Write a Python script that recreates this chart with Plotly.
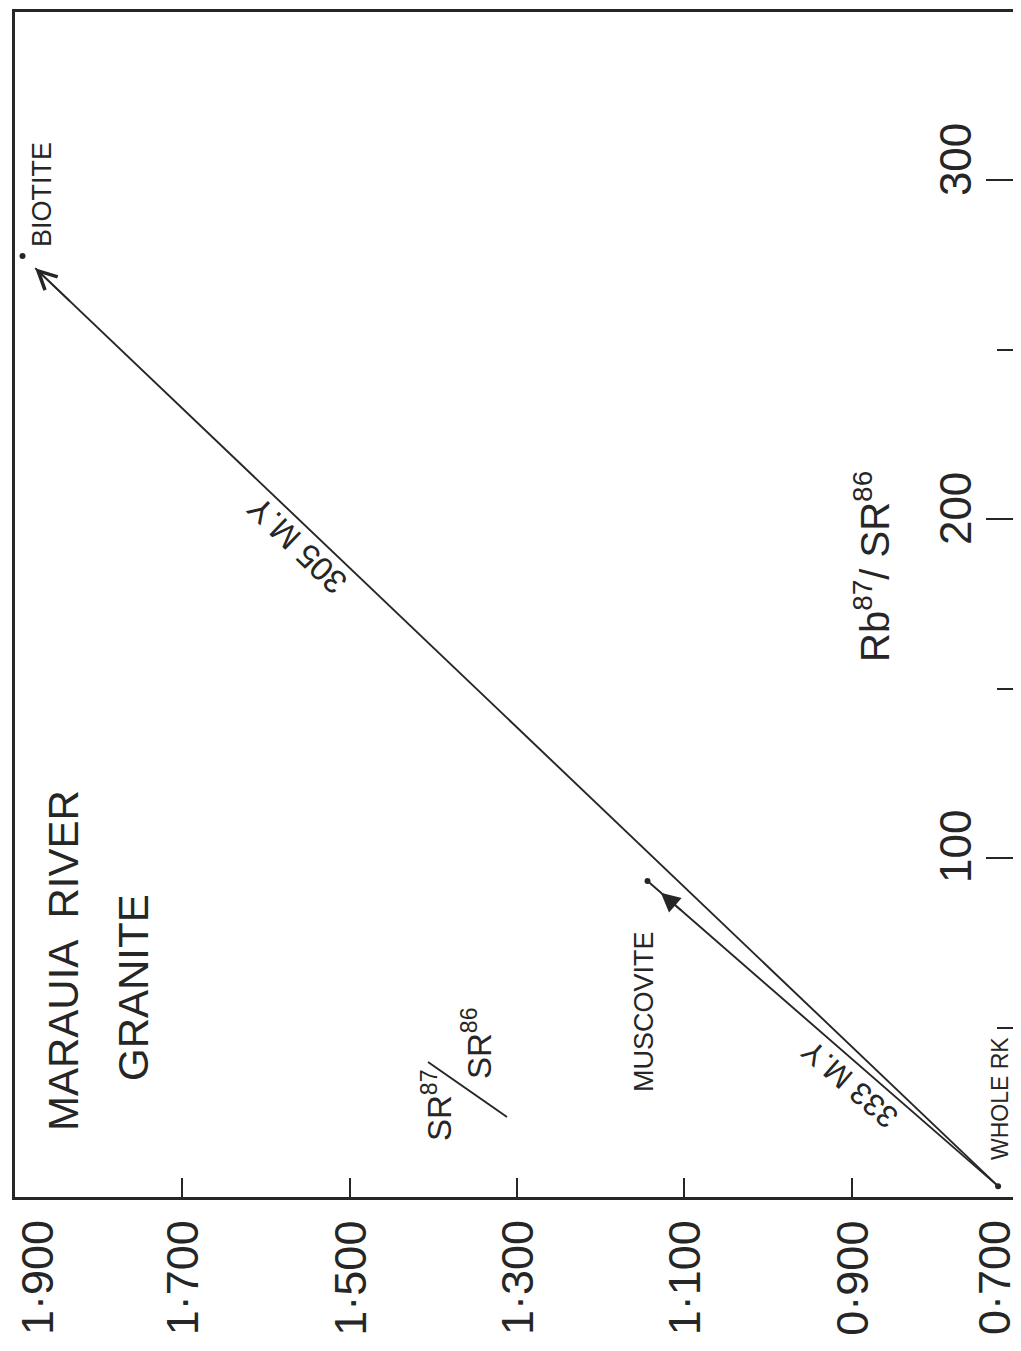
import plotly.graph_objects as go

# ---------------- data ----------------
SR_TICKS = [1.9, 1.7, 1.5, 1.3, 1.1, 0.9, 0.7]
SR_TICK_TEXT = ["1·900", "1·700", "1·500", "1·300", "1·100", "0·900", "0·700"]
RB_MAJOR_TICKS = [100, 200, 300]
RB_MAJOR_TEXT = ["100", "200", "300"]
RB_MINOR_TICKS = [50, 150, 250]

SAMPLES = ["WHOLE RK", "MUSCOVITE", "BIOTITE"]
SAMPLE_SR = [0.725, 1.144, 1.891]     # Sr87/Sr86
SAMPLE_RB = [3.2, 93.2, 277.6]        # Rb87/Sr86
AGE_LABELS = ["333 M.Y", "305 M.Y"]   # muscovite, biotite isochrons

# ---------------- geometry / style ----------------
W, H = 1021, 1351          # window
OFF = 8                    # default body margin of the html page
L, R, T, B = 15, 1019, 12, 1197   # frame, in window pixels
INK = "#262626"
FONT = "Liberation Sans"


def px(x):
    return (x - L) / (R - L)


def py(y):
    return (B - y) / (B - T)


def along(i, frac):
    """point a fraction of the way from whole rock to sample i"""
    x0, y0 = SAMPLE_SR[0], SAMPLE_RB[0]
    return (x0 + frac * (SAMPLE_SR[i] - x0), y0 + frac * (SAMPLE_RB[i] - y0))


fig = go.Figure()

# isochron lines
mx, my = SAMPLE_SR[1], SAMPLE_RB[1]
fig.add_trace(go.Scatter(x=[SAMPLE_SR[0], mx], y=[SAMPLE_RB[0], my], mode="lines",
                         line=dict(color=INK, width=1.9), showlegend=False, hoverinfo="skip"))
bx, by = along(2, 0.987)
fig.add_trace(go.Scatter(x=[SAMPLE_SR[0], bx], y=[SAMPLE_RB[0], by], mode="lines",
                         line=dict(color=INK, width=1.9), showlegend=False, hoverinfo="skip"))

# sample points
fig.add_trace(go.Scatter(x=SAMPLE_SR, y=SAMPLE_RB, mode="markers", text=SAMPLES,
                         marker=dict(color=INK, size=6), showlegend=False))

ann = []

# arrow heads
tipx, tipy = along(1, 0.962)
tailx, taily = along(1, 0.90)
ann.append(dict(x=tipx, y=tipy, ax=tailx, ay=taily, xref="x", yref="y", axref="x", ayref="y",
                text="", showarrow=True, arrowhead=2, arrowsize=2.4, arrowwidth=1.6,
                arrowcolor=INK, standoff=0))
tailx, taily = along(2, 0.95)
ann.append(dict(x=bx, y=by, ax=tailx, ay=taily, xref="x", yref="y", axref="x", ayref="y",
                text="", showarrow=True, arrowhead=5, arrowsize=2.0, arrowwidth=1.8,
                arrowcolor=INK, standoff=0))

# bottom tick labels (Sr87/Sr86)
sr_shift = [22, 0, 0, 0, 0, 0, -25]
for v, t, s in zip(SR_TICKS, SR_TICK_TEXT, sr_shift):
    ann.append(dict(x=v, y=py(1278), xref="x", yref="paper", text=t, textangle=-90,
                    showarrow=False, xanchor="center", yanchor="middle", xshift=s,
                    borderpad=0, font=dict(family=FONT, size=45, color=INK)))

# right-hand tick labels (Rb87/Sr86), drawn inside the frame
rb_shift = [11, 10, 20]
for v, t, s in zip(RB_MAJOR_TICKS, RB_MAJOR_TEXT, rb_shift):
    ann.append(dict(x=px(955), y=v, xref="paper", yref="y", text=t, textangle=-90,
                    showarrow=False, xanchor="center", yanchor="middle", yshift=s,
                    font=dict(family=FONT, size=44, color=INK)))


def label(text, x, y, size, angle=-90):
    ann.append(dict(x=px(x), y=py(y), xref="paper", yref="paper", text=text,
                    textangle=angle, showarrow=False, xanchor="center", yanchor="middle",
                    font=dict(family=FONT, size=size, color=INK)))


label("MARAUIA  RIVER", 63, 961, 42)
label("GRANITE", 133, 988, 42)

# Sr87/Sr86 axis title, written as a slanted fraction
label("SR<sup>87</sup>", 437, 1105, 33)
label("SR<sup>86</sup>", 477, 1043, 33)
shapes = [dict(type="line", xref="paper", yref="paper",
               x0=px(428), y0=py(1062), x1=px(507), y1=py(1117),
               line=dict(color=INK, width=2))]

label("Rb<sup>87</sup>/ SR<sup>86</sup>", 872, 567, 40)

label(SAMPLES[1], 644, 1012, 27)
label(SAMPLES[0], 1000, 1099, 23)
label(SAMPLES[2], 42, 195, 27)

label(AGE_LABELS[1], 297, 546, 33, angle=-136)
label(AGE_LABELS[0], 850, 1085, 31, angle=-139)

fig.update_layout(
    width=W - OFF, height=H - OFF,
    margin=dict(l=L - OFF, r=W - R, t=T - OFF, b=H - B, pad=0),
    paper_bgcolor="white", plot_bgcolor="white",
    annotations=ann, shapes=shapes,
    xaxis=dict(range=[1.9, 0.7], tickvals=SR_TICKS, ticks="inside", ticklen=19,
               tickwidth=2, tickcolor=INK, showticklabels=False, showgrid=False,
               zeroline=False, showline=True, linewidth=3, linecolor=INK, mirror=True),
    yaxis=dict(range=[0, 349.6], side="right", tickvals=RB_MAJOR_TICKS, ticks="inside",
               ticklen=33, tickwidth=2, tickcolor=INK, showticklabels=False,
               showgrid=False, zeroline=False, showline=True, linewidth=2.5,
               linecolor=INK, mirror=True,
               minor=dict(tickvals=RB_MINOR_TICKS, ticks="inside", ticklen=22,
                          tickwidth=2, tickcolor=INK, showgrid=False)),
)

fig.write_html("out.html")
